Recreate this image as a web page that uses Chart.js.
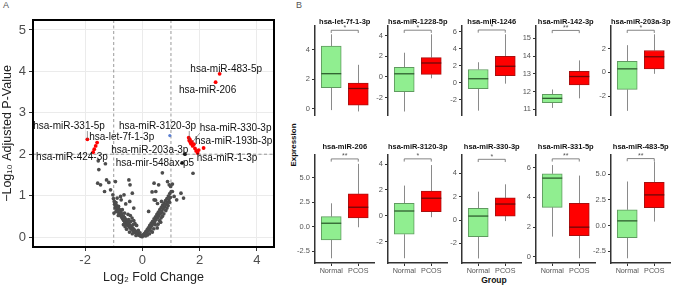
<!DOCTYPE html>
<html>
<head>
<meta charset="utf-8">
<script src="https://cdn.jsdelivr.net/npm/chart.js@4.4.1/dist/chart.umd.min.js"></script>
<style>
  body { margin: 0; background: #fff; width: 676px; height: 285px; position: relative; overflow: hidden;
         font-family: 'Liberation Sans', Arial, sans-serif; }
  canvas { position: absolute; }
  .tag { position: absolute; font-size: 9px; color: #555; }
  #expr { position: absolute; left: 293px; top: 145px; transform: translate(-50%, -50%) rotate(-90deg);
          font-size: 8px; font-weight: bold; color: #111; white-space: nowrap; }
  #group { position: absolute; left: 494px; top: 280px; transform: translate(-50%, -50%);
           font-size: 8.5px; font-weight: bold; color: #111; }
</style>
</head>
<body>
<div class="tag" style="left:3px;top:0px">A</div>
<div class="tag" style="left:296px;top:0px">B</div>
<canvas id="volcano" width="285" height="285" style="left:0;top:0"></canvas>
<div id="expr">Expression</div>
<div id="group">Group</div>
<script>
// ---------- panel A: volcano ----------
const fcCut = 1
const pCut = 2
const fcTicks = [-2, 0, 2, 4]
const pTicks = [0, 1, 2, 3, 4, 5]

const greyPoints = [
  [-1.54,1.84],[-1.29,1.77],[-1.52,1.63],[-1.56,1.30],[-1.46,1.26],[-1.25,1.38],[-1.17,1.32],[-1.32,1.10],
  [-1.11,1.14],[-1.03,1.02],[-0.94,1.34],[-0.88,0.94],[-0.76,0.98],[-0.74,0.90],[-0.64,1.02],[-0.47,1.38],
  [-0.43,1.26],[-0.44,0.86],[-0.35,1.06],[-0.99,0.58],[-0.94,0.74],[-0.58,0.80],[-0.30,0.70],
  [0.41,1.30],[0.47,1.10],[0.53,0.81],[0.67,0.86],[0.70,1.55],[0.88,1.34],[0.94,1.26],[0.99,1.22],
  [1.05,1.10],[1.11,0.98],[1.20,0.90],[1.35,1.06],[1.44,0.94],[1.77,1.54],[0.41,0.90],[0.57,1.26],
  [0.34,1.09],[0.46,0.89],[1.05,1.28],[0.22,0.62],
  [-1.01,0.93],[-0.98,0.86],[-0.97,0.79],[-0.95,0.70],[-0.92,0.83],[-0.90,0.76],[-0.87,0.68],[-0.86,0.61],
  [-0.83,0.74],[-0.81,0.57],[-0.79,0.66],[-0.77,0.52],[-0.75,0.61],[-0.72,0.48],[-0.71,0.56],[-0.69,0.44],
  [-0.66,0.50],[-0.65,0.40],[-0.62,0.47],[-0.61,0.36],[-0.58,0.43],[-0.57,0.33],[-0.55,0.39],[-0.52,0.30],
  [-0.51,0.37],[-0.49,0.27],[-0.47,0.33],[-0.45,0.24],[-0.43,0.29],[-0.41,0.21],[-0.39,0.26],[-0.37,0.18],
  [-0.36,0.23],[-0.33,0.16],[-0.31,0.20],[-0.29,0.13],[-0.27,0.17],[-0.25,0.11],[-0.23,0.14],[-0.21,0.09],
  [-0.19,0.11],[-0.17,0.07],[-0.15,0.09],[-0.13,0.05],[-0.11,0.06],[-0.09,0.04],[-0.07,0.04],[-0.05,0.02],
  [-0.03,0.03],[-0.01,0.01],[-0.42,0.52],[-0.36,0.46],[-0.30,0.40],[-0.26,0.33],[-0.40,0.38],[-0.50,0.55],
  [-0.20,0.28],[-0.45,0.12],[-0.35,0.08],[-0.22,0.04],[-0.60,0.25],[-0.55,0.19],[-0.66,0.30],[-0.14,0.16],
  [-0.08,0.10],[-0.32,0.30],[-0.48,0.42],[-0.84,0.52],[-0.92,0.62],[-0.70,0.66],[-0.62,0.58],
  [0.02,0.03],[0.04,0.06],[0.06,0.04],[0.08,0.09],[0.10,0.07],[0.12,0.13],[0.14,0.10],[0.17,0.18],
  [0.19,0.14],[0.21,0.22],[0.23,0.18],[0.26,0.28],[0.28,0.23],[0.31,0.33],[0.33,0.27],[0.36,0.38],
  [0.38,0.32],[0.41,0.44],[0.43,0.37],[0.46,0.49],[0.48,0.42],[0.51,0.55],[0.53,0.47],[0.56,0.60],
  [0.58,0.52],[0.61,0.66],[0.63,0.57],[0.66,0.71],[0.68,0.62],[0.71,0.77],[0.73,0.68],[0.76,0.82],
  [0.78,0.73],[0.81,0.88],[0.83,0.79],[0.86,0.93],[0.88,0.84],[0.91,0.99],[0.93,0.90],[0.96,1.05],
  [0.98,0.96],[1.01,1.10],[0.30,0.15],[0.18,0.05],[0.45,0.30],[0.60,0.40],[0.25,0.08],[0.35,0.12],
  [0.52,0.22],[0.55,0.31],[0.65,0.46],[0.70,0.50],[0.75,0.56],[0.82,0.64],[0.86,0.70],[0.90,0.76],
  [0.12,0.03],[0.40,0.20],[0.95,0.84],[0.64,0.36]
]
const darkPoints = [[1.49,2.00],[1.39,1.79]]
const bluePoints = [[0.96,2.45]]
const redPoints = [
  [2.70,3.94],[2.56,3.74],[-1.92,2.36],[-1.58,2.28],[-1.63,2.20],[-1.68,2.12],[-1.72,2.05],
  [1.62,2.40],[1.64,2.33],[1.66,2.36],[1.68,2.28],[1.70,2.25],[1.73,2.30],[1.76,2.20],[1.80,2.24],
  [1.84,2.14],[1.88,2.08],[1.93,2.03],[1.97,2.10],[2.14,2.15]
]

const labelGenes = ['hsa-miR-483-5p','hsa-miR-206','hsa-miR-331-5p','hsa-let-7f-1-3p','hsa-miR-424-3p',
  'hsa-miR-3120-3p','hsa-miR-203a-3p','hsa-mir-548ax-p5','hsa-miR-330-3p','hsa-miR-193b-3p','hsa-miR-1-3p']
const labelFC = [2.70, 2.56, -1.92, -1.58, -1.72, 1.64, 1.49, 1.39, 1.76, 2.14, 1.88]
const labelP = [3.94, 3.74, 2.36, 2.28, 2.05, 2.33, 2.00, 1.79, 2.30, 2.15, 2.08]
// where each label's text sits (data units)
const labelTextAt = [[2.93,4.06],[2.28,3.55],[-2.56,2.68],[-0.72,2.42],[-2.46,1.93],[0.53,2.68],
  [0.26,2.10],[0.44,1.79],[3.26,2.63],[3.19,2.32],[2.96,1.91]]

const FONT = "'Liberation Sans', Arial, sans-serif"
Chart.defaults.font.family = FONT

const toXY = arr => arr.map(p => ({ x: p[0], y: p[1] }))

const volcanoDecor = {
  id: 'volcanoDecor',
  beforeDatasetsDraw(chart) {
    const { ctx, chartArea: a, scales: { x, y } } = chart
    ctx.save()
    ctx.strokeStyle = '#808080'
    ctx.lineWidth = 0.8
    ctx.setLineDash([3, 2.5])
    ;[-fcCut, fcCut].forEach(v => {
      const px = x.getPixelForValue(v)
      ctx.beginPath(); ctx.moveTo(px, a.top); ctx.lineTo(px, a.bottom); ctx.stroke()
    })
    const py = y.getPixelForValue(pCut)
    ctx.beginPath(); ctx.moveTo(a.left, py); ctx.lineTo(a.right, py); ctx.stroke()
    ctx.restore()
  },
  afterDatasetsDraw(chart) {
    const { ctx, chartArea: a, scales: { x, y } } = chart
    ctx.save()
    ctx.font = '10px ' + FONT
    ctx.textAlign = 'center'
    ctx.textBaseline = 'middle'
    labelGenes.forEach((g, i) => {
      const px = x.getPixelForValue(labelFC[i]), py = y.getPixelForValue(labelP[i])
      const lx = x.getPixelForValue(labelTextAt[i][0]), ly = y.getPixelForValue(labelTextAt[i][1])
      const w = ctx.measureText(g).width
      const cx = Math.min(Math.max(px, lx - w / 2), lx + w / 2)
      const cy = Math.min(Math.max(py, ly - 5), ly + 5)
      if (Math.hypot(cx - px, cy - py) > 3) {
        ctx.strokeStyle = '#555'
        ctx.lineWidth = 0.6
        ctx.beginPath(); ctx.moveTo(cx, cy); ctx.lineTo(px, py); ctx.stroke()
      }
    })
    ctx.fillStyle = '#111'
    labelGenes.forEach((g, i) => {
      ctx.fillText(g, x.getPixelForValue(labelTextAt[i][0]), y.getPixelForValue(labelTextAt[i][1]))
    })
    ctx.strokeStyle = '#000'
    ctx.lineWidth = 2
    ctx.strokeRect(a.left, a.top, a.right - a.left, a.bottom - a.top)
    ctx.restore()
  }
}

new Chart(document.getElementById('volcano'), {
  type: 'scatter',
  data: {
    datasets: [
      { data: toXY(greyPoints), backgroundColor: '#4d4d4d', pointRadius: 1.85, borderWidth: 0 },
      { data: toXY(darkPoints), backgroundColor: '#1a1a1a', pointRadius: 1.9, borderWidth: 0 },
      { data: toXY(bluePoints), backgroundColor: '#5b7fd1', pointRadius: 1.6, borderWidth: 0 },
      { data: toXY(redPoints), backgroundColor: '#ff0000', pointRadius: 1.9, borderWidth: 0 }
    ]
  },
  options: {
    responsive: false,
    animation: false,
    layout: { padding: { top: 20, right: 11, left: 0, bottom: 0 } },
    plugins: { legend: { display: false }, tooltip: { enabled: false } },
    scales: {
      x: {
        type: 'linear', min: -3.82, max: 4.6,
        afterBuildTicks: s => { s.ticks = fcTicks.map(v => ({ value: v })) },
        afterFit: s => { s.height = 38 },
        grid: { color: '#ebebeb', tickColor: '#333', tickLength: 4 },
        border: { display: false },
        ticks: { color: '#4d4d4d', font: { size: 13 }, padding: 2 },
        title: { display: true, text: 'Log\u2082 Fold Change', color: '#222', font: { size: 12.5 }, padding: 0 }
      },
      y: {
        min: -0.24, max: 5.24,
        afterBuildTicks: s => { s.ticks = pTicks.map(v => ({ value: v })) },
        afterFit: s => { s.width = 33 },
        grid: { color: '#ebebeb', tickColor: '#333', tickLength: 4 },
        border: { display: false },
        ticks: { color: '#4d4d4d', font: { size: 13 }, padding: 3 },
        title: { display: true, text: '\u2212Log\u2081\u2080 Adjusted P-Value', color: '#222', font: { size: 12.5 }, padding: 0 }
      }
    }
  },
  plugins: [volcanoDecor]
})

// ---------- panel B: boxplots ----------
const groups = ['Normal', 'PCOS']
const boxGenes = ['hsa-let-7f-1-3p','hsa-miR-1228-5p','hsa-miR-1246','hsa-miR-142-3p','hsa-miR-203a-3p',
  'hsa-miR-206','hsa-miR-3120-3p','hsa-miR-330-3p','hsa-miR-331-5p','hsa-miR-483-5p']
// [lower whisker, q1, median, q3, upper whisker]
const normalStats = [
  [-0.09, 1.42, 2.37, 4.24, 5.03],
  [-3.36, -1.44, 0.31, 0.94, 2.36],
  [-3.30, -0.70, 0.46, 1.55, 2.40],
  [11.08, 11.38, 11.62, 11.85, 12.12],
  [-3.25, -1.44, 0.30, 0.93, 2.30],
  [-3.22, -1.36, 0.35, 1.02, 2.38],
  [-3.30, -1.44, 0.36, 0.96, 2.33],
  [-3.29, -1.43, 0.34, 1.00, 2.43],
  [1.35, 3.33, 5.30, 5.59, 6.18],
  [-3.20, -1.18, 0.46, 1.54, 4.31]
]
const pcosStats = [
  [-0.18, 0.25, 1.37, 1.73, 2.97],
  [-0.13, 0.26, 1.36, 1.89, 4.15],
  [-0.12, 0.83, 1.93, 3.10, 5.70],
  [11.62, 12.38, 12.85, 13.15, 13.76],
  [-0.12, 0.29, 1.32, 1.85, 3.22],
  [-0.06, 0.89, 1.98, 3.34, 6.40],
  [-0.12, 0.31, 1.35, 1.91, 3.92],
  [-0.09, 0.34, 1.37, 1.90, 3.06],
  [-0.11, 1.42, 1.99, 3.60, 5.47],
  [0.39, 1.76, 3.00, 4.22, 6.27]
]
const sigLabels = ['*', '*', '*', '**', '*', '**', '*', '*', '**', '**']
const bracketY = [5.3, 4.55, 6.2, 15.45, 3.56, 6.9, 4.4, 5.2, 6.6, 6.55]
const yTicks = [
  [0, 2, 4], [-2, 0, 2, 4], [-2, 0, 2, 4, 6], [11, 12, 13, 14, 15], [-2, 0, 2],
  [-2.5, 0, 2.5, 5], [-2, 0, 2, 4], [-2, 0, 2, 4], [0, 2, 4, 6], [-2.5, 0, 2.5, 5]
]
const yRange = [
  [-0.42, 5.59], [-3.7, 4.96], [-3.81, 6.67], [10.68, 15.7], [-3.6, 3.92],
  [-3.7, 7.3], [-3.67, 4.7], [-3.68, 5.57], [-0.43, 6.86], [-3.66, 6.9]
]

const axisLeft = [315, 388, 462, 536, 611]
const boxFill = ['#90ee90', '#ff0000']
const boxLine = ['#5f9a5f', '#a81010']
const medianLine = ['#2f5f2f', '#6e0808']

const boxParts = {
  id: 'boxParts',
  beforeDatasetsDraw(chart, args, opts) {
    const { ctx, scales: { x, y } } = chart
    const stats = [normalStats[opts.idx], pcosStats[opts.idx]]
    ctx.save()
    ctx.strokeStyle = '#8a8a8a'
    ctx.lineWidth = 1
    stats.forEach((s, k) => {
      const px = Math.round(x.getPixelForValue(k + 1)) + 0.5
      ctx.beginPath()
      ctx.moveTo(px, y.getPixelForValue(s[0])); ctx.lineTo(px, y.getPixelForValue(s[1]))
      ctx.moveTo(px, y.getPixelForValue(s[3])); ctx.lineTo(px, y.getPixelForValue(s[4]))
      ctx.stroke()
    })
    ctx.restore()
  },
  afterDatasetsDraw(chart, args, opts) {
    const { ctx, scales: { x, y } } = chart
    const stats = [normalStats[opts.idx], pcosStats[opts.idx]]
    const bars = chart.getDatasetMeta(0).data
    ctx.save()
    ctx.lineWidth = 1.3
    stats.forEach((s, k) => {
      const px = x.getPixelForValue(k + 1), w = bars[k].width
      const my = y.getPixelForValue(s[2])
      ctx.strokeStyle = medianLine[k]
      ctx.beginPath(); ctx.moveTo(px - w / 2, my); ctx.lineTo(px + w / 2, my); ctx.stroke()
    })
    const x1 = x.getPixelForValue(1), x2 = x.getPixelForValue(2)
    const by = y.getPixelForValue(bracketY[opts.idx])
    ctx.strokeStyle = '#666'
    ctx.lineWidth = 0.8
    ctx.beginPath()
    ctx.moveTo(x1, by + 2.7); ctx.lineTo(x1, by); ctx.lineTo(x2, by); ctx.lineTo(x2, by + 2.7)
    ctx.stroke()
    ctx.fillStyle = '#555'
    ctx.font = '7px ' + FONT
    ctx.textAlign = 'center'
    ctx.textBaseline = 'middle'
    ctx.fillText(sigLabels[opts.idx], (x1 + x2) / 2, by - 2.5)
    ctx.restore()
  }
}

boxGenes.forEach((gene, i) => {
  const row = i < 5 ? 0 : 1
  const col = i % 5
  const cv = document.createElement('canvas')
  cv.width = 86
  cv.height = row ? 144 : 128
  cv.style.left = (axisLeft[col] - 24) + 'px'
  cv.style.top = (row ? 141 : 12) + 'px'
  document.body.appendChild(cv)
  const dec = yTicks[i].some(v => v % 1 !== 0) ? 1 : 0

  new Chart(cv, {
    type: 'bar',
    data: {
      datasets: [{
        data: [
          { x: 1, y: [normalStats[i][1], normalStats[i][3]] },
          { x: 2, y: [pcosStats[i][1], pcosStats[i][3]] }
        ],
        backgroundColor: boxFill,
        borderColor: boxLine,
        borderWidth: 1,
        borderSkipped: false,
        barThickness: 20
      }]
    },
    options: {
      responsive: false,
      animation: false,
      layout: { padding: { left: 0, right: 2.5, top: 0, bottom: row ? 0 : 3 } },
      plugins: {
        legend: { display: false },
        tooltip: { enabled: false },
        title: {
          display: true, text: gene, fullSize: false, color: '#111',
          font: { size: 7.5, weight: 'bold', lineHeight: 1 },
          padding: row ? { top: 2.5, bottom: 4 } : { top: 5.75, bottom: 0.75 }
        },
        boxParts: { idx: i }
      },
      scales: {
        x: {
          type: 'linear', min: 0.4, max: 2.6, offset: false, display: row === 1,
          afterBuildTicks: s => { s.ticks = [{ value: 1 }, { value: 2 }] },
          afterFit: s => { s.height = 22; s.paddingLeft = 0; s.paddingRight = 0 },
          grid: { offset: false, drawOnChartArea: false, tickLength: 3, tickColor: '#333' },
          border: { display: true, color: '#333', width: 1.5 },
          ticks: { callback: v => groups[v - 1], color: '#555', font: { size: 7.2 }, padding: 1, maxRotation: 0, autoSkip: false }
        },
        y: {
          min: yRange[i][0], max: yRange[i][1],
          afterBuildTicks: s => { s.ticks = yTicks[i].map(v => ({ value: v })) },
          afterFit: s => { s.width = 24 },
          grid: { drawOnChartArea: false, tickLength: 3, tickColor: '#333' },
          border: { display: true, color: '#333', width: 1.5 },
          ticks: { callback: v => v.toFixed(dec), color: '#555', font: { size: 7.5 }, padding: 2 }
        }
      }
    },
    plugins: [boxParts]
  })
})
</script>
</body>
</html>
